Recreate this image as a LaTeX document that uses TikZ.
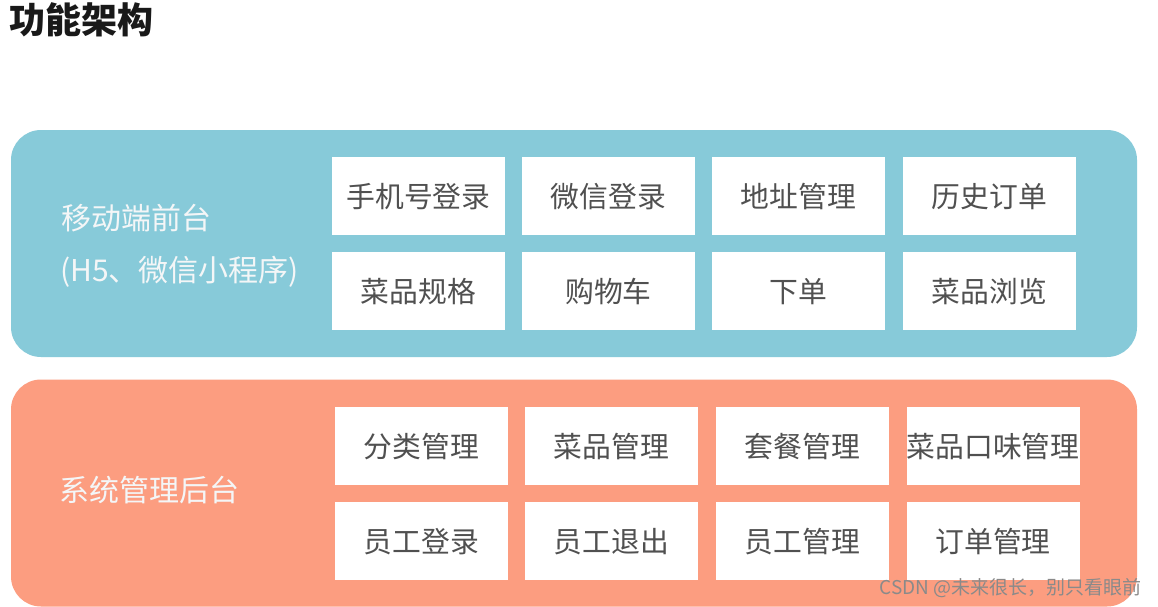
\documentclass[tikz,border=0pt]{standalone}
\usepackage{fontspec}
\setmainfont{Noto Sans CJK SC}
\newfontfamily\cjk{Noto Sans CJK SC}
\definecolor{panelblue}{HTML}{87CAD9}
\definecolor{panelorange}{HTML}{FC9D80}
\definecolor{boxtext}{HTML}{505050}
\definecolor{labeltext}{HTML}{F4F6F7}
\definecolor{marktext}{HTML}{8A8A8A}
\tikzset{
  panel/.style={rounded corners=30pt, minimum width=1126pt, minimum height=227pt, inner sep=0pt, draw=none},
  itembox/.style={fill=white, minimum width=173pt, minimum height=78pt, inner sep=0pt, text=boxtext, font=\cjk\fontsize{28.8}{32}\selectfont, text depth=2pt},
  sidelabel/.style={anchor=west, text=labeltext, inner sep=0pt, font=\cjk\fontsize{30}{34}\selectfont},
  titletext/.style={anchor=west, inner sep=0pt, text=black!90, font=\cjk\bfseries\fontsize{36}{40}\selectfont},
  watermark/.style={anchor=east, inner sep=0pt, text=marktext, font=\cjk\fontsize{19}{22}\selectfont}
}
\begin{document}
\begin{tikzpicture}[x=1pt,y=-1pt]
\useasboundingbox[fill=white] (0,0) rectangle (1158,607);
\node[titletext] (title) at (9,20) {功能架构};
% panels
\node[panel, fill=panelblue] (front) at (574,243.5) {};
\node[panel, fill=panelorange] (back) at (574,493) {};
% side labels
\node[sidelabel] (frontlabel1) at (61,218) {移动端前台};
\node[sidelabel] (frontlabel2) at (60,272) {(H5、微信小程序)};
\node[sidelabel] (backlabel) at (59,490) {系统管理后台};
% front boxes
\node[itembox] (f11) at (418.5,196) {手机号登录};
\node[itembox] (f12) at (608.5,196) {微信登录};
\node[itembox] (f13) at (798.5,196) {地址管理};
\node[itembox] (f14) at (989.5,196) {历史订单};
\node[itembox] (f21) at (418.5,291) {菜品规格};
\node[itembox] (f22) at (608.5,291) {购物车};
\node[itembox] (f23) at (798.5,291) {下单};
\node[itembox] (f24) at (989.5,291) {菜品浏览};
% back boxes
\node[itembox] (b11) at (421.5,446) {分类管理};
\node[itembox] (b12) at (611.5,446) {菜品管理};
\node[itembox] (b13) at (802.5,446) {套餐管理};
\node[itembox] (b14) at (993,446) {菜品口味管理};
\node[itembox] (b21) at (421.5,541) {员工登录};
\node[itembox] (b22) at (611.5,541) {员工退出};
\node[itembox] (b23) at (802.5,541) {员工管理};
\node[itembox] (b24) at (993,541) {订单管理};
% watermark
\node[watermark] (mark) at (1142,588) {CSDN @未来很长，别只看眼前};
\end{tikzpicture}
\end{document}
